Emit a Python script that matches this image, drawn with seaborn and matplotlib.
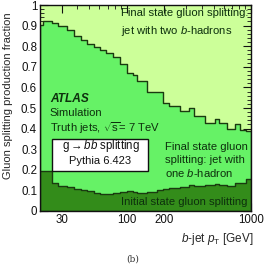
import numpy as np
import pandas as pd
import matplotlib
matplotlib.use("Agg")
import matplotlib.pyplot as plt
from matplotlib.patches import Rectangle
import seaborn as sns
from matplotlib.ticker import FixedLocator, NullFormatter, FixedFormatter

sns.set_theme(style="ticks")
plt.rcParams['font.family'] = ['Liberation Sans', 'DejaVu Sans']
plt.rcParams['mathtext.fontset'] = 'custom'
plt.rcParams['mathtext.rm'] = 'Liberation Sans'
plt.rcParams['mathtext.it'] = 'Liberation Sans:italic'

# bin edges in GeV
bin_edges = [20, 21.3, 24.9, 28.1, 32.8, 37.6, 42.8, 48.1, 54.5, 60.9, 68.1, 77.6,
             88.4, 100, 113, 120, 145, 175, 197, 217, 269, 314, 345, 428, 515,
             548, 641, 748, 821, 917, 1000]
# fraction: initial state + final state (one b-hadron)  -> upper boundary
upper_frac = [0.904, 0.92, 0.915, 0.90, 0.88, 0.85, 0.83, 0.81, 0.798, 0.78, 0.766,
              0.746, 0.715, 0.668, 0.66, 0.633, 0.576, 0.58, 0.526, 0.51, 0.485,
              0.502, 0.462, 0.426, 0.445, 0.426, 0.398, 0.422, 0.393, 0.39]
# fraction: initial state gluon splitting -> lower boundary
lower_frac = [0.195, 0.195, 0.134, 0.123, 0.115, 0.107, 0.10, 0.095, 0.085, 0.083,
              0.083, 0.086, 0.09, 0.097, 0.09, 0.086, 0.093, 0.10, 0.105, 0.112,
              0.115, 0.125, 0.12, 0.128, 0.13, 0.128, 0.122, 0.134, 0.137, 0.157]

x_ticks = [30, 100, 200, 1000]
x_ticklabels = ["30", "100", "200", "1000"]
y_ticks = [0, 0.1, 0.2, 0.3, 0.4, 0.5, 0.6, 0.7, 0.8, 0.9, 1.0]
y_ticklabels = ["0", "0.1", "0.2", "0.3", "0.4", "0.5", "0.6", "0.7", "0.8", "0.9", "1"]

edges = np.array(bin_edges, dtype=float)
centers = np.sqrt(edges[:-1] * edges[1:])
df = pd.DataFrame({"pt": centers, "upper": upper_frac, "lower": lower_frac})

c_top = "#ccff99"
c_mid = "#66f266"
c_low = "#338c1a"
c_edge = "#1a3a10"

fig = plt.figure(figsize=(2.66, 2.64), dpi=100)
ax = fig.add_axes([0.150, 0.2008, 0.794, 0.7802])
ax.set_facecolor(c_top)

sns.histplot(data=df, x="pt", weights="upper", bins=list(bin_edges), element="step",
             fill=True, color=c_mid, alpha=1, edgecolor=c_edge, linewidth=1.0,
             ax=ax, zorder=1)
sns.histplot(data=df, x="pt", weights="lower", bins=list(bin_edges), element="step",
             fill=True, color=c_low, alpha=1, edgecolor=c_edge, linewidth=1.0,
             ax=ax, zorder=2)

ax.set_xscale("log")
ax.set_xlim(20, 1000)
ax.set_ylim(0, 1)

minor_x = [v for dec in (10, 100) for v in np.arange(2, 10) * dec] + [1000]
ax.xaxis.set_major_locator(FixedLocator(x_ticks))
ax.xaxis.set_major_formatter(FixedFormatter(x_ticklabels))
ax.xaxis.set_minor_locator(FixedLocator([v for v in minor_x if v not in x_ticks]))
ax.xaxis.set_minor_formatter(NullFormatter())
ax.yaxis.set_major_locator(FixedLocator(y_ticks))
ax.yaxis.set_major_formatter(FixedFormatter(y_ticklabels))
ax.yaxis.set_minor_locator(FixedLocator(np.arange(0, 1.001, 0.02)))

ax.tick_params(which="both", direction="in", top=True, right=True, colors="#111111",
               labelsize=8.3, pad=2)
ax.tick_params(which="major", length=6, width=0.8)
ax.tick_params(which="minor", length=3, width=0.6)
for s in ax.spines.values():
    s.set_linewidth(1.0)
    s.set_color("#111111")
    s.set_zorder(5)

ax.set_xlabel("")
ax.set_ylabel("Gluon splitting production fraction", fontsize=8.0)
ax.yaxis.set_label_coords(-0.128, 0.558)
fig.text(0.951, 0.095, r"$\it{b}$-jet $p_{\rm T}$ [GeV]", ha="right", va="center",
         fontsize=8.5)

tc = "#0d300d"
T = ax.transAxes
ax.text(0.384, 0.962, "Final state gluon splitting:", fontsize=8.1, color=tc,
        va="center", ha="left", transform=T, zorder=6)
ax.text(0.384, 0.873, "jet with two $\\it{b}$-hadrons", fontsize=8.1, color=tc,
        va="center", ha="left", transform=T, zorder=6)

ax.text(0.047, 0.544, "ATLAS", fontsize=8.6, weight="bold", style="italic",
        color=tc, va="center", transform=T, zorder=6)
ax.text(0.047, 0.474, "Simulation", fontsize=8.1, color=tc, va="center",
        transform=T, zorder=6)
ax.text(0.047, 0.404, r"Truth jets, $\sqrt{\rm s}$= 7 TeV", fontsize=8.1,
        color=tc, va="center", transform=T, zorder=6)

ax.add_patch(Rectangle((0.055, 0.194), 0.457, 0.156, transform=T,
                       facecolor="white", edgecolor="#111111", linewidth=1.0,
                       zorder=6))
ax.text(0.29, 0.316, "g$\\rightarrow$$\\it{bb}$ splitting", fontsize=8.3,
        ha="center", va="center", transform=T, zorder=7, color="#111111")
ax.text(0.284, 0.241, "Pythia 6.423", fontsize=8.0,
        ha="center", va="center", transform=T, zorder=7, color="#111111")

ax.text(0.591, 0.311, "Final state gluon", fontsize=8.1, color=tc, va="center",
        transform=T, zorder=6)
ax.text(0.591, 0.246, "splitting: jet with", fontsize=8.1, color=tc, va="center",
        transform=T, zorder=6)
ax.text(0.591, 0.186, "one $\\it{b}$-hadron", fontsize=8.1, color=tc, va="center",
        transform=T, zorder=6)

ax.text(0.384, 0.044, "Initial state gluon splitting", fontsize=8.1, color=tc,
        va="center", ha="left", transform=T, zorder=6)

fig.text(0.5, 0.003, "(b)", fontsize=6.5, family="DejaVu Serif", ha="center",
         va="bottom", color="#333333")

fig.savefig("out.png", dpi=100)
